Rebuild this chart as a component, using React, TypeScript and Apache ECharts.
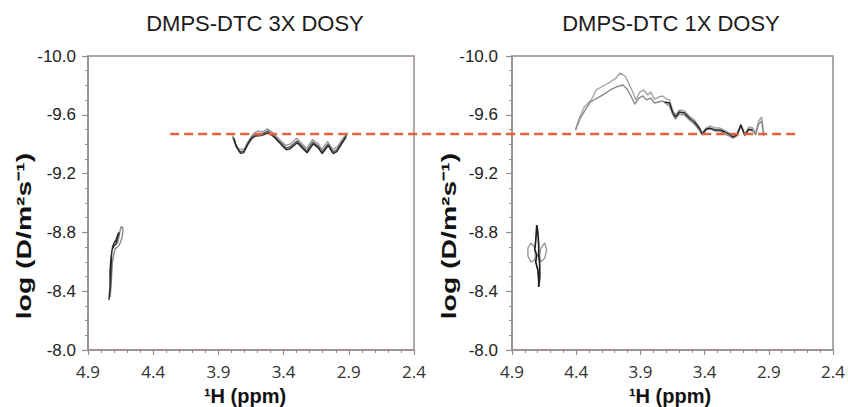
import React, { useEffect, useRef } from "react";
import * as echarts from "echarts";

type P = [number, number];

// ---- text / axes ----
const panelTitles = ["DMPS-DTC 3X DOSY", "DMPS-DTC 1X DOSY"];
const yAxisName = "log (D/m²s⁻¹)";
const xAxisName = "¹H (ppm)";
const xMin = 2.4;
const xMax = 4.9;
const xStep = 0.5;
const yMin = -10.0;
const yMax = -8.0;
const yStep = 0.4;

// reference dashed line (log D), from ppm in left panel to ppm in right panel
const referenceLogD = -9.47;
const referenceStartPpm = 4.27;
const referenceEndPpm = 2.66;

// ---- left panel (3X) contour traces ----
const left3xMid: P[] = [
  [3.788, -9.449], [3.765, -9.388], [3.734, -9.347], [3.704, -9.354], [3.673, -9.408],
  [3.642, -9.449], [3.612, -9.469], [3.566, -9.469], [3.52, -9.49], [3.481, -9.463],
  [3.428, -9.415], [3.382, -9.374], [3.351, -9.381], [3.297, -9.422], [3.251, -9.381],
  [3.221, -9.354], [3.175, -9.415], [3.136, -9.388], [3.106, -9.347], [3.06, -9.401],
  [3.021, -9.347], [2.991, -9.361], [2.952, -9.415], [2.914, -9.463],
];
const left3xLight: P[] = [
  [3.795, -9.46], [3.77, -9.4], [3.738, -9.362], [3.7, -9.37], [3.668, -9.425],
  [3.635, -9.468], [3.6, -9.49], [3.56, -9.483], [3.525, -9.505], [3.485, -9.48],
  [3.43, -9.43], [3.385, -9.392], [3.35, -9.4], [3.3, -9.44], [3.255, -9.4],
  [3.222, -9.372], [3.178, -9.432], [3.138, -9.405], [3.108, -9.365], [3.062, -9.418],
  [3.022, -9.365], [2.99, -9.38], [2.95, -9.435], [2.905, -9.478],
];
const left3xDark: P[] = [
  [3.78, -9.44], [3.76, -9.378], [3.73, -9.338], [3.706, -9.343], [3.676, -9.395],
  [3.646, -9.437], [3.615, -9.456], [3.57, -9.458], [3.518, -9.478], [3.478, -9.452],
  [3.425, -9.404], [3.38, -9.362], [3.352, -9.368], [3.295, -9.41], [3.25, -9.368],
  [3.22, -9.342], [3.172, -9.402], [3.135, -9.375], [3.104, -9.336], [3.058, -9.39],
  [3.02, -9.336], [2.992, -9.35], [2.955, -9.402], [2.92, -9.45],
];
const left3xWaterDark: P[] = [
  [4.739, -8.34], [4.731, -8.442], [4.731, -8.544], [4.724, -8.626], [4.716, -8.68],
  [4.701, -8.707], [4.685, -8.721], [4.678, -8.748], [4.67, -8.776], [4.662, -8.8],
  [4.67, -8.79], [4.685, -8.75], [4.7, -8.728], [4.712, -8.7], [4.718, -8.66],
  [4.722, -8.58], [4.727, -8.47], [4.739, -8.34],
];
const left3xWaterLight: P[] = [
  [4.68, -8.72], [4.67, -8.74], [4.66, -8.78], [4.652, -8.82], [4.645, -8.84],
  [4.635, -8.835], [4.632, -8.81], [4.638, -8.77], [4.648, -8.74], [4.66, -8.715],
  [4.675, -8.7], [4.69, -8.69], [4.7, -8.66], [4.712, -8.6], [4.718, -8.52],
  [4.722, -8.44], [4.73, -8.36],
];

// ---- right panel (1X) contour traces ----
const right1xUpper: P[] = [
  [4.406, -9.497], [4.375, -9.578], [4.337, -9.653], [4.283, -9.701], [4.244, -9.769],
  [4.19, -9.796], [4.136, -9.823], [4.09, -9.85], [4.059, -9.884], [4.02, -9.864],
  [3.989, -9.81], [3.959, -9.755], [3.935, -9.701], [3.905, -9.755], [3.874, -9.769],
  [3.843, -9.735], [3.82, -9.755], [3.789, -9.707], [3.758, -9.721], [3.727, -9.728],
  [3.696, -9.707], [3.673, -9.701], [3.65, -9.633], [3.627, -9.599], [3.596, -9.633],
  [3.557, -9.626], [3.519, -9.592], [3.48, -9.565], [3.442, -9.517], [3.419, -9.476],
  [3.388, -9.51], [3.357, -9.524], [3.318, -9.51], [3.28, -9.51], [3.241, -9.49],
  [3.21, -9.476], [3.179, -9.456], [3.148, -9.469], [3.118, -9.537], [3.087, -9.469],
  [3.056, -9.517], [3.025, -9.51], [3.002, -9.476], [2.979, -9.558], [2.956, -9.585],
  [2.94, -9.476],
];
const right1xLower: P[] = [
  [4.406, -9.497], [4.368, -9.578], [4.329, -9.633], [4.29, -9.687], [4.236, -9.714],
  [4.182, -9.741], [4.136, -9.769], [4.09, -9.789], [4.036, -9.803], [4.005, -9.776],
  [3.974, -9.728], [3.943, -9.673], [3.912, -9.714], [3.881, -9.728], [3.851, -9.701],
  [3.82, -9.714], [3.789, -9.68], [3.758, -9.687], [3.727, -9.694], [3.696, -9.673],
  [3.673, -9.66], [3.65, -9.605], [3.627, -9.571], [3.596, -9.605], [3.557, -9.599],
  [3.519, -9.565], [3.48, -9.537], [3.442, -9.497], [3.419, -9.463], [3.388, -9.497],
  [3.357, -9.503], [3.318, -9.49], [3.28, -9.49], [3.241, -9.469], [3.21, -9.456],
  [3.179, -9.442], [3.148, -9.456], [3.118, -9.524], [3.087, -9.456], [3.056, -9.497],
  [3.025, -9.49], [3.002, -9.463], [2.979, -9.537], [2.956, -9.558], [2.94, -9.456],
];
const right1xDark: P[] = [
  [3.712, -9.687], [3.673, -9.68], [3.65, -9.619], [3.627, -9.585], [3.596, -9.619],
  [3.557, -9.612], [3.519, -9.578], [3.48, -9.551], [3.442, -9.51], [3.419, -9.469],
  [3.388, -9.503], [3.357, -9.51], [3.318, -9.497], [3.28, -9.497], [3.241, -9.483],
  [3.21, -9.469], [3.179, -9.449], [3.148, -9.463], [3.118, -9.531], [3.087, -9.463],
  [3.056, -9.503], [3.025, -9.497],
];
const right1xWaterDark: P[] = [
  [4.707, -8.85], [4.715, -8.748], [4.723, -8.68], [4.707, -8.646], [4.715, -8.599],
  [4.699, -8.544], [4.692, -8.476], [4.692, -8.429], [4.684, -8.49], [4.684, -8.578],
  [4.692, -8.646], [4.692, -8.714], [4.699, -8.803], [4.707, -8.85],
];
const right1xWaterLeftLobe: P[] = [
  [4.715, -8.694], [4.753, -8.728], [4.776, -8.694], [4.776, -8.639], [4.753, -8.599],
  [4.723, -8.612], [4.715, -8.68],
];
const right1xWaterRightLobe: P[] = [
  [4.676, -8.694], [4.645, -8.728], [4.63, -8.68], [4.645, -8.626], [4.676, -8.599],
  [4.684, -8.646], [4.676, -8.694],
];

const FRAME = "#978c89";

function lineSeries(data: P[], idx: number, color: string, width = 1.4) {
  return {
    type: "line",
    xAxisIndex: idx,
    yAxisIndex: idx,
    data,
    showSymbol: false,
    symbol: "none",
    silent: true,
    lineStyle: { color, width },
    z: 3,
  };
}

function xAxisCfg(idx: number) {
  return {
    type: "value",
    gridIndex: idx,
    inverse: true,
    min: xMin,
    max: xMax,
    interval: xStep,
    axisLine: { show: true, lineStyle: { color: FRAME, width: 1.5 } },
    axisTick: { show: true, length: 5, lineStyle: { color: FRAME, width: 1.2 } },
    minorTick: { show: true, splitNumber: 5, length: 3, lineStyle: { color: FRAME, width: 1 } },
    splitLine: { show: false },
    axisLabel: {
      margin: 13,
      fontFamily: "Open Sans",
      fontSize: 17,
      lineHeight: 17,
      color: "#333",
      formatter: (v: number) => v.toFixed(1),
    },
  };
}

function yAxisCfg(idx: number, margin: number) {
  return {
    type: "value",
    gridIndex: idx,
    inverse: true,
    min: yMin,
    max: yMax,
    interval: yStep,
    axisLine: { show: true, lineStyle: { color: FRAME, width: 1.5 } },
    axisTick: { show: true, length: 6, lineStyle: { color: FRAME, width: 1.2 } },
    minorTick: { show: true, splitNumber: 4, length: 3, lineStyle: { color: FRAME, width: 1 } },
    splitLine: { show: false },
    axisLabel: {
      margin,
      fontFamily: "Liberation Sans",
      fontSize: 17,
      color: "#222",
      formatter: (v: number) => v.toFixed(1),
    },
  };
}

export default function App() {
  const ref = useRef<HTMLDivElement>(null);
  useEffect(() => {
    if (!ref.current) return;
    const chart = echarts.init(ref.current, undefined, { renderer: "svg" });
    const option: any = {
      animation: false,
      backgroundColor: "#ffffff",
      grid: [
        { left: 88, top: 56, width: 326, height: 294, show: true, borderColor: FRAME, borderWidth: 1.5 },
        { left: 512, top: 56, width: 324, height: 294, show: true, borderColor: FRAME, borderWidth: 1.5 },
      ],
      xAxis: [xAxisCfg(0), xAxisCfg(1)],
      yAxis: [yAxisCfg(0, 12), yAxisCfg(1, 14)],
      series: [
        lineSeries(left3xLight, 0, "#9a9a9a"),
        lineSeries(left3xMid, 0, "#555555"),
        lineSeries(left3xDark, 0, "#262626"),
        lineSeries(left3xWaterLight, 0, "#8a8a8a"),
        lineSeries(left3xWaterDark, 0, "#2a2a2a"),
        lineSeries(right1xUpper, 1, "#a3a3a3"),
        lineSeries(right1xLower, 1, "#8a8a8a"),
        lineSeries(right1xDark, 1, "#222222"),
        lineSeries(right1xWaterLeftLobe, 1, "#999999"),
        lineSeries(right1xWaterRightLobe, 1, "#999999"),
        lineSeries(right1xWaterDark, 1, "#1e1e1e", 1.7),
      ],
    };
    chart.setOption(option);

    const p0 = chart.convertToPixel({ xAxisIndex: 0, yAxisIndex: 0 }, [referenceStartPpm, referenceLogD]) as number[];
    const p1 = chart.convertToPixel({ xAxisIndex: 1, yAxisIndex: 1 }, [referenceEndPpm, referenceLogD]) as number[];

    const titleFont = "22px 'Liberation Sans', Arial, sans-serif";
    const yNameFont = "bold 21px 'Liberation Sans', Arial, sans-serif";
    const xNameFont = "bold 20px 'Liberation Sans', Arial, sans-serif";
    chart.setOption({
      graphic: [
        { type: "text", x: 255, y: 23, style: { text: panelTitles[0], font: titleFont, fill: "#1a1a1a", align: "center", verticalAlign: "middle" } },
        { type: "text", x: 671, y: 23, style: { text: panelTitles[1], font: titleFont, fill: "#1a1a1a", align: "center", verticalAlign: "middle" } },
        { type: "text", x: 23, y: 236, rotation: Math.PI / 2, scaleX: 1.35, style: { text: yAxisName, font: yNameFont, fill: "#111", align: "center", verticalAlign: "middle" } },
        { type: "text", x: 448, y: 236, rotation: Math.PI / 2, scaleX: 1.35, style: { text: yAxisName, font: yNameFont, fill: "#111", align: "center", verticalAlign: "middle" } },
        { type: "text", x: 245, y: 395.5, style: { text: xAxisName, font: xNameFont, lineHeight: 20, fill: "#111", align: "center", verticalAlign: "middle" } },
        { type: "text", x: 670, y: 395.5, style: { text: xAxisName, font: xNameFont, lineHeight: 20, fill: "#111", align: "center", verticalAlign: "middle" } },
        {
          type: "line",
          z: 10,
          shape: { x1: p0[0], y1: p0[1], x2: p1[0], y2: p1[1] },
          style: { stroke: "#e4603e", lineWidth: 2.5, lineDash: [9, 5] },
        },
      ],
    });
    return () => chart.dispose();
  }, []);
  return <div ref={ref} style={{ position: "absolute", left: 0, top: 0, width: 848, height: 407 }} />;
}
